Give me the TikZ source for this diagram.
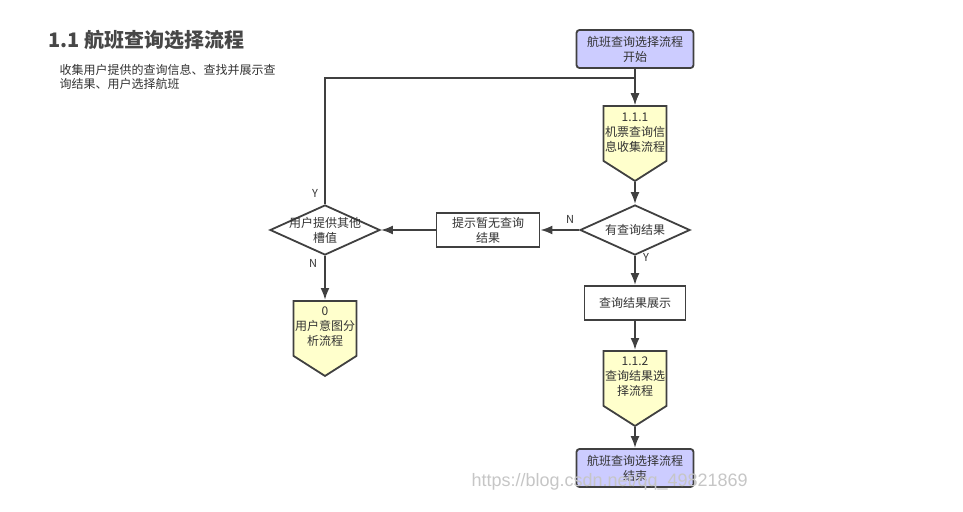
\documentclass[tikz,border=0pt]{standalone}
\usepackage{fontspec}
\setmainfont{Noto Sans CJK SC}
\newfontfamily\markfont{Liberation Sans}
\usetikzlibrary{arrows.meta}
\usetikzlibrary{shapes.geometric}
\usetikzlibrary{shapes.symbols}
\definecolor{linegray}{HTML}{404040}
\definecolor{textgray}{HTML}{333333}
\definecolor{lavender}{HTML}{CCCCFF}
\definecolor{paleyellow}{HTML}{FFFFCC}

\tikzset{
  every node/.style={text=textgray},
  flow/.style={-{Latex[length=12pt,width=9pt]},draw=linegray,line width=2pt},
  nodetext/.style={font=\fontsize{12}{15}\selectfont,align=center},
  terminal/.style={nodetext,draw=linegray,fill=lavender,line width=1.8pt,rounded corners=3pt,minimum width=117pt,minimum height=38pt},
  procbox/.style={nodetext,draw=linegray,fill=white,line width=1.8pt,minimum height=34pt},
  subproc/.style={draw=linegray,fill=paleyellow,line width=1.8pt,shape=signal,signal to=south,signal from=nowhere,signal pointer angle=115,minimum width=63pt,minimum height=55pt,inner sep=0pt,anchor=north},
  decision/.style={draw=linegray,fill=white,line width=1.8pt,shape=diamond,minimum width=110pt,minimum height=50pt,inner sep=0pt},
  yn/.style={font=\fontsize{11}{13}\selectfont}
}

\begin{document}
\begin{tikzpicture}[x=1pt,y=-1pt]
\useasboundingbox (0,0) rectangle (963,511);
% title and description
\node[anchor=west,font=\fontsize{20}{24}\selectfont\bfseries,text=textgray!90] (title) at (45,40) {1.1 航班查询选择流程};
\node[anchor=north west,align=left,font=\fontsize{12}{14}\selectfont] (desc) at (56,61) {收集用户提供的查询信息、查找并展示查\\询结果、用户选择航班};

% main column
\node[terminal] (start) at (635,49) {航班查询选择流程\\开始};
\node[subproc] (collect) at (635,105) {};
\node[nodetext] at (635,133) {1.1.1\\机票查询信\\息收集流程};
\node[decision] (hasres) at (635,230) {};
\node[nodetext] at (635,230) {有查询结果};
\node[procbox,minimum width=101pt] (show) at (635,303) {查询结果展示};
\node[subproc] (choose) at (635,350) {};
\node[nodetext] at (635,377) {1.1.2\\查询结果选\\择流程};
\node[terminal] (finish) at (635,468) {航班查询选择流程\\结束};

% left branch
\node[procbox,minimum width=103pt] (noresult) at (488,230) {提示暂无查询\\结果};
\node[decision] (slot) at (325,230) {};
\node[nodetext] at (325,230) {用户提供其他\\槽值};
\node[subproc] (intent) at (325,300) {};
\node[nodetext] at (325,327) {0\\用户意图分\\析流程};

% connectors
\coordinate (join) at (635,78);
\draw[flow] (start) -- (collect.north);
\draw[flow] (slot.north) |- (join) -- (collect.north);
\draw[flow] (collect.south) -- (hasres.north);
\draw[flow] (hasres.west) -- (noresult.east);
\draw[flow] (noresult.west) -- (slot.east);
\draw[flow] (slot.south) -- (intent.north);
\draw[flow] (hasres.south) -- (show.north);
\draw[flow] (show.south) -- (choose.north);
\draw[flow] (choose.south) -- (finish.north);

% branch labels
\node[yn] at (315,193) {Y};
\node[yn] at (313,263) {N};
\node[yn] at (570,219) {N};
\node[yn] at (646,257) {Y};

% watermark
\node[font=\markfont\fontsize{18}{20}\selectfont,text=gray!45,anchor=west] (mark) at (468,482) {https://blog.csdn.net/qq\_49821869};
\end{tikzpicture}
\end{document}
